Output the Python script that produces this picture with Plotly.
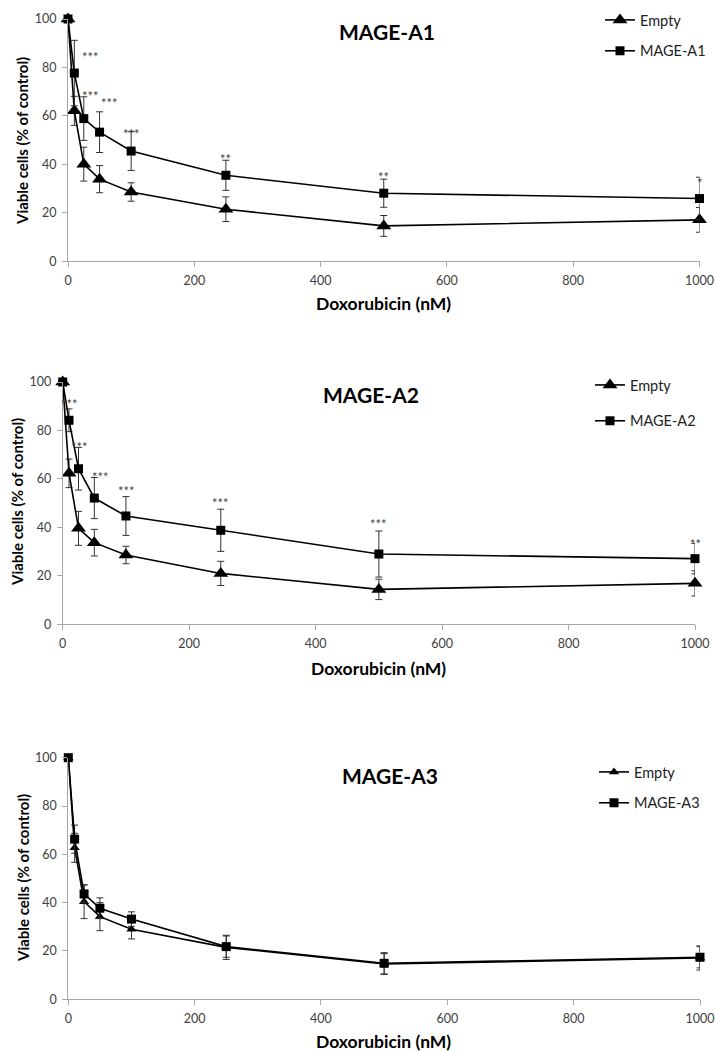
import plotly.graph_objects as go

W, H = 715, 1051

dose = [0, 10, 25, 50, 100, 250, 500, 1000]

# Panel MAGE-A1
empty_a1 = [100, 62.1, 40.1, 33.9, 28.6, 21.5, 14.6, 17.1]
empty_a1_err = [0, 6.0, 7.0, 5.6, 3.8, 5.1, 4.3, 5.1]
mage_a1 = [100, 77.7, 58.9, 53.3, 45.5, 35.5, 28.1, 25.9]
mage_a1_err = [0, 13.5, 9.0, 8.4, 8.0, 6.2, 5.8, 8.8]
star_a1_text = ["***", "***", "***", "***", "**", "**", "*"]
star_a1_x = [35, 35, 65, 100, 250, 500, 1000]
star_a1_y = [86, 70, 67, 54, 43.8, 36.4, 34]

# Panel MAGE-A2
empty_a2 = [100, 62.3, 39.6, 33.7, 28.6, 21.0, 14.4, 16.9]
empty_a2_err = [0, 5.9, 7.0, 5.5, 3.6, 5.0, 4.2, 5.2]
mage_a2 = [100, 84.2, 64.2, 52.1, 44.7, 38.8, 29.0, 27.1]
mage_a2_err = [0, 4.7, 8.8, 8.5, 8.0, 8.7, 9.5, 6.3]
star_a2_text = ["***", "***", "***", "***", "***", "***", "**"]
star_a2_x = [11, 27, 60, 101, 250, 500, 1000]
star_a2_y = [92.5, 75, 62.3, 56.8, 51.7, 43, 34.8]

# Panel MAGE-A3
empty_a3 = [100, 62.7, 40.4, 34.2, 29.0, 21.5, 14.6, 17.1]
empty_a3_err = [0, 6.0, 7.0, 5.8, 4.0, 5.0, 4.3, 5.0]
mage_a3 = [100, 66.3, 43.6, 37.7, 33.2, 21.8, 14.9, 17.4]
mage_a3_err = [0, 5.8, 3.7, 4.3, 3.0, 4.4, 4.4, 4.4]

x_ticks = [0, 200, 400, 600, 800, 1000]
y_ticks = [0, 20, 40, 60, 80, 100]

FONT = "Lato"


def px(x):
    return x / W


def py(y):
    return 1 - y / H


panels = [
    dict(name="MAGE-A1", empty=empty_a1, empty_err=empty_a1_err, mage=mage_a1, mage_err=mage_a1_err,
         stars=(star_a1_text, star_a1_x, star_a1_y),
         xdom=(68, 699.5), ydom=(19, 261.3), title=(386.7, 31.7), tri=13, sq=9,
         leg=(600, 4), gap=9, ytitle=(22.5, 141.5), xtitle=(383, 304)),
    dict(name="MAGE-A2", empty=empty_a2, empty_err=empty_a2_err, mage=mage_a2, mage_err=mage_a2_err,
         stars=(star_a2_text, star_a2_x, star_a2_y),
         xdom=(62.7, 695), ydom=(382, 624.3), title=(371, 395), tri=13, sq=9,
         leg=(590, 369), gap=14, ytitle=(17.5, 502.5), xtitle=(378.5, 668)),
    dict(name="MAGE-A3", empty=empty_a3, empty_err=empty_a3_err, mage=mage_a3, mage_err=mage_a3_err,
         stars=None,
         xdom=(68.3, 700), ydom=(757.7, 999.3), title=(389.5, 775), tri=9, sq=9,
         leg=(594, 756), gap=9, ytitle=(22.5, 878.5), xtitle=(383, 1041)),
]

fig = go.Figure()
layout = dict(
    width=W, height=H,
    margin=dict(l=0, r=0, t=0, b=0),
    paper_bgcolor="white", plot_bgcolor="white",
    font=dict(family=FONT, color="#222"),
    annotations=[],
    showlegend=True,
)

for i, p in enumerate(panels):
    n = "" if i == 0 else str(i + 1)
    xa, ya = "x" + n, "y" + n
    leg = "legend" + n
    err_common = dict(type="data", width=3.5, thickness=1, color="#333")
    fig.add_trace(go.Scatter(
        x=dose, y=p["empty"], name="Empty", mode="lines+markers",
        xaxis=xa, yaxis=ya, legend=leg, legendgroup=f"e{i}",
        line=dict(color="black", width=1.6),
        marker=dict(symbol="triangle-up", size=p["tri"], color="black"),
        error_y=dict(array=p["empty_err"], **err_common),
        cliponaxis=False,
    ))
    fig.add_trace(go.Scatter(
        x=dose, y=p["mage"], name=p["name"], mode="lines+markers",
        xaxis=xa, yaxis=ya, legend=leg, legendgroup=f"m{i}",
        line=dict(color="black", width=1.6),
        marker=dict(symbol="square", size=p["sq"], color="black"),
        error_y=dict(array=p["mage_err"], **err_common),
        cliponaxis=False,
    ))
    axcommon = dict(showgrid=False, zeroline=False, showline=True, linecolor="#a6a6a6", linewidth=1,
                    ticks="outside", ticklen=5, tickcolor="#a6a6a6", automargin=False,
                    tickfont=dict(family=FONT, size=12.5, color="#404040"))
    layout["xaxis" + n] = dict(domain=[px(p["xdom"][0]), px(p["xdom"][1])], range=[0, 1000],
                               anchor=ya, tickvals=x_ticks, ticklabelstandoff=3, **axcommon)
    layout["yaxis" + n] = dict(domain=[py(p["ydom"][1]), py(p["ydom"][0])], range=[0, 100],
                               anchor=xa, tickvals=y_ticks, ticklabelstandoff=3, **axcommon)
    layout[leg] = dict(x=px(p["leg"][0]), y=py(p["leg"][1]),
                       xanchor="left", yanchor="top",
                       bgcolor="rgba(0,0,0,0)", font=dict(family=FONT, size=14.5, color="#222"),
                       tracegroupgap=p["gap"])
    layout["annotations"].append(dict(
        text="<b>" + p["name"] + "</b>", x=px(p["title"][0]), y=py(p["title"][1]),
        xref="paper", yref="paper", xanchor="center", yanchor="middle", showarrow=False,
        font=dict(family=FONT, size=21, color="black")))
    layout["annotations"].append(dict(
        text="<b>Viable cells (% of control)</b>", x=px(p["ytitle"][0]), y=py(p["ytitle"][1]),
        xref="paper", yref="paper", xanchor="center", yanchor="middle", showarrow=False,
        textangle=-90, font=dict(family=FONT, size=15, color="black")))
    layout["annotations"].append(dict(
        text="<b>Doxorubicin (nM)</b>", x=px(p["xtitle"][0]), y=py(p["xtitle"][1]),
        xref="paper", yref="paper", xanchor="center", yanchor="middle", showarrow=False,
        font=dict(family=FONT, size=17.5, color="black")))
    if p["stars"]:
        for t, sx, sy in zip(*p["stars"]):
            layout["annotations"].append(dict(
                text=t, x=sx, y=sy, xref=xa, yref=ya, xanchor="center", yanchor="middle",
                yshift=-4, showarrow=False, font=dict(family=FONT, size=13, color="#444")))

fig.update_layout(**layout)
fig.write_html("out.html")
